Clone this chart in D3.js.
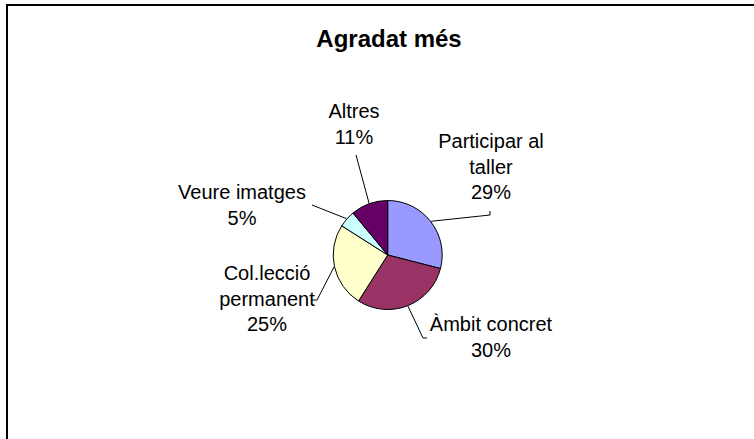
<!DOCTYPE html>
<html>
<head>
<meta charset="utf-8">
<script src="https://cdn.jsdelivr.net/npm/d3@7"></script>
<style>
  body { margin: 0; background: #fff; }
  text { font-family: "Liberation Sans", Arial, sans-serif; fill: #000; }
</style>
</head>
<body>
<div id="chart"></div>
<script>
// data
const categories = ["Participar al taller", "Àmbit concret", "Col.lecció permanent", "Veure imatges", "Altres"];
const values = [29, 30, 25, 5, 11];
const labelLines = [["Participar al", "taller"], ["Àmbit concret"], ["Col.lecció", "permanent"], ["Veure imatges"], ["Altres"]];
const colors = ["#9999FF", "#993366", "#FFFFCC", "#CCFFFF", "#660066"];

const width = 754;
const height = 439;
const cx = 387.7, cy = 255, radius = 54.5;

// label layout: text centre x, first baseline y, and the leader line end points
const labelLayout = [
  { x: 491, y: 148, leader: [[490, 215], [490, 211]] },
  { x: 491, y: 331, leader: [[423, 338], [427, 338]] },
  { x: 267, y: 280, leader: [[317, 300], [312, 300]] },
  { x: 242, y: 199, leader: [[312, 205]] },
  { x: 354, y: 118, leader: [[356, 155]] }
];
const lineHeight = 25.5;

const svg = d3.select("#chart").append("svg")
  .attr("width", width)
  .attr("height", height);

svg.append("rect")
  .attr("x", 7)
  .attr("y", 5)
  .attr("width", 800)
  .attr("height", 500)
  .attr("fill", "#fff")
  .attr("stroke", "#000")
  .attr("stroke-width", 2);

svg.append("text")
  .attr("x", 389)
  .attr("y", 47)
  .attr("text-anchor", "middle")
  .style("font-size", "24px")
  .style("font-weight", "bold")
  .text("Agradat més");

const data = categories.map((c, i) => ({ name: c, value: values[i], idx: i }));
const pie = d3.pie().sort(null).value(d => d.value);
const arcs = pie(data);
const arc = d3.arc().innerRadius(0).outerRadius(radius);

const g = svg.append("g").attr("transform", `translate(${cx},${cy})`);

g.selectAll("path.slice").data(arcs)
  .enter().append("path")
    .attr("class", "slice")
    .attr("d", arc)
    .attr("fill", d => colors[d.data.idx])
    .attr("stroke", "#000")
    .attr("stroke-width", 1);

const total = d3.sum(values);

// leader lines from the slice mid angle on the rim
arcs.forEach(d => {
  const a = (d.startAngle + d.endAngle) / 2;
  const r = radius + 0.5;
  const start = [cx + r * Math.sin(a), cy - r * Math.cos(a)];
  const pts = [start].concat(labelLayout[d.data.idx].leader);
  svg.append("path")
    .attr("d", d3.line()(pts))
    .attr("fill", "none")
    .attr("stroke", "#000")
    .attr("stroke-width", 1);
});

// labels
arcs.forEach(d => {
  const lay = labelLayout[d.data.idx];
  const lines = labelLines[d.data.idx].concat([Math.round(d.data.value / total * 100) + "%"]);
  const t = svg.append("text")
    .attr("text-anchor", "middle")
    .style("font-size", "20px");
  lines.forEach((l, k) => {
    t.append("tspan")
      .attr("x", lay.x)
      .attr("y", lay.y + k * lineHeight)
      .text(l);
  });
});
</script>
</body>
</html>
